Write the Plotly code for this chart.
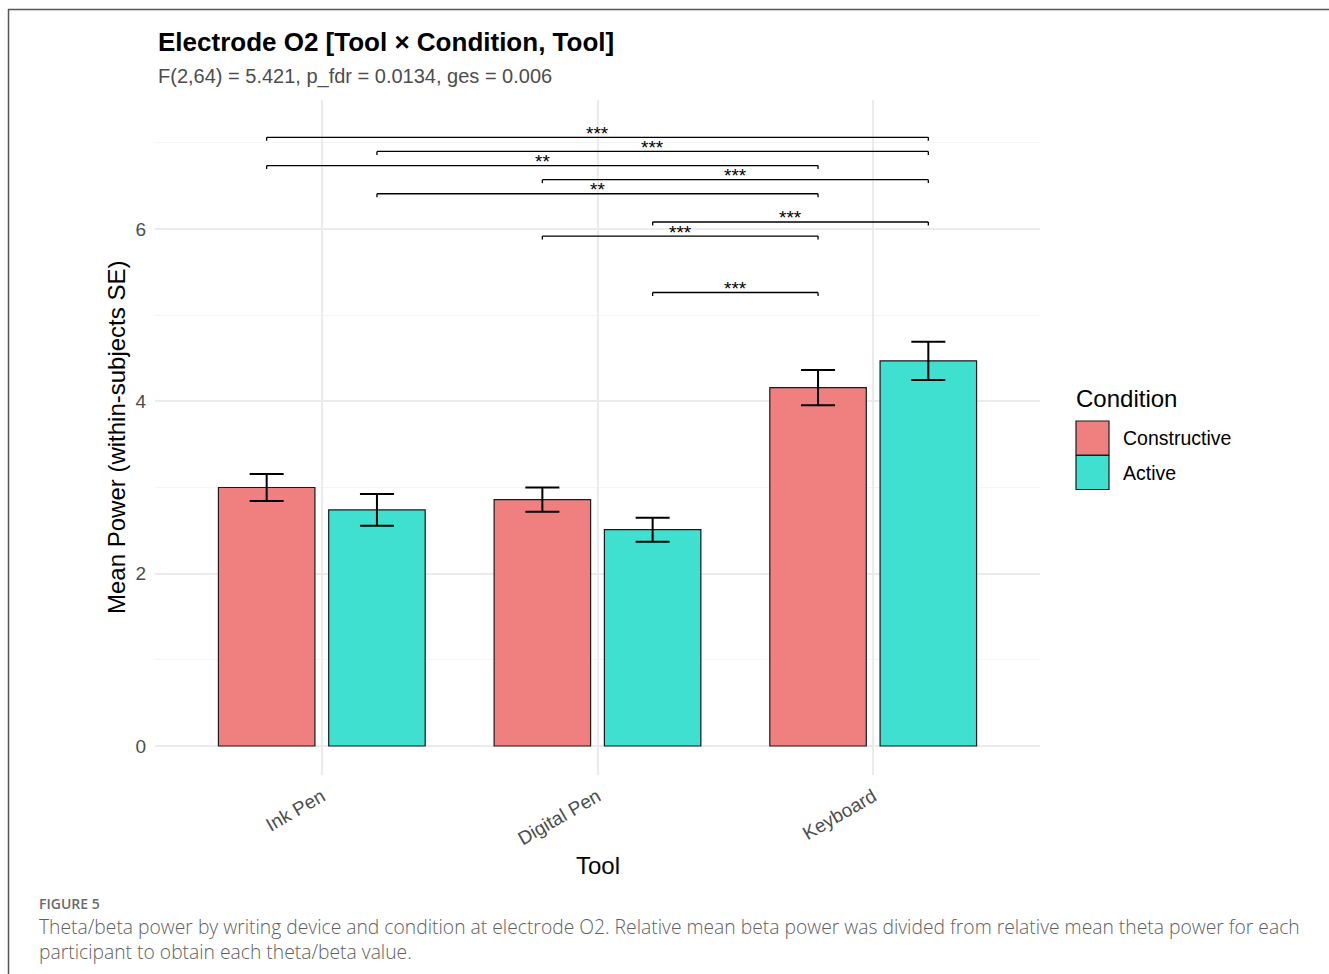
import plotly.graph_objects as go

# ---- data -------------------------------------------------------------
tools = ["Ink Pen", "Digital Pen", "Keyboard"]
conditions = ["Constructive", "Active"]
mean_constructive = [3.00, 2.86, 4.16]
mean_active = [2.74, 2.51, 4.47]
se_constructive = [0.157, 0.141, 0.205]
se_active = [0.185, 0.140, 0.222]
colors = {"Constructive": "#F08080", "Active": "#40E0D0"}

# pairwise comparisons: (tool_a, cond_a, tool_b, cond_b, stacking level, label)
comparisons = [
    ("Digital Pen", "Active", "Keyboard", "Constructive", 0, "***"),
    ("Digital Pen", "Constructive", "Keyboard", "Constructive", 4, "***"),
    ("Digital Pen", "Active", "Keyboard", "Active", 5, "***"),
    ("Ink Pen", "Active", "Keyboard", "Constructive", 7, "**"),
    ("Digital Pen", "Constructive", "Keyboard", "Active", 8, "***"),
    ("Ink Pen", "Constructive", "Keyboard", "Constructive", 9, "**"),
    ("Ink Pen", "Active", "Keyboard", "Active", 10, "***"),
    ("Ink Pen", "Constructive", "Keyboard", "Active", 11, "***"),
]
bracket_base = 5.263
bracket_step = 0.1637

title = "Electrode O2 [Tool × Condition, Tool]"
subtitle = "F(2,64) = 5.421, p_fdr = 0.0134, ges = 0.006"
caption_head = "FIGURE 5"
caption_lines = [
    "Theta/beta power by writing device and condition at electrode O2. Relative mean beta power was divided from relative mean theta power for each",
    "participant to obtain each theta/beta value.",
]

# ---- layout geometry ----------------------------------------------------
W, H = 1329, 974
PX0, PX1, PY0, PY1 = 155, 1040, 100, 775   # panel box in pixels
DODGE = 0.2


def px(x):
    return x / W


def py(y):
    return 1 - y / H


FONT = "Liberation Sans, Arial, sans-serif"

fig = go.Figure()
for cond, means, ses in [("Constructive", mean_constructive, se_constructive),
                         ("Active", mean_active, se_active)]:
    fig.add_trace(go.Bar(
        name=cond, x=tools, y=means,
        marker=dict(color=colors[cond], line=dict(color="#1a1a1a", width=1.2)),
        error_y=dict(type="data", array=ses, visible=True,
                     color="black", thickness=2, width=17),
        showlegend=False,
    ))

# significance brackets
shapes = []
annotations = []
tip = 0.04
cond_off = {"Constructive": -DODGE, "Active": DODGE}
for ta, ca, tb, cb, level, lab in comparisons:
    xa = tools.index(ta) + cond_off[ca]
    xb = tools.index(tb) + cond_off[cb]
    yb = bracket_base + bracket_step * level
    line = dict(color="black", width=1.3)
    shapes.append(dict(type="line", xref="x", yref="y", x0=xa, x1=xb, y0=yb, y1=yb, line=line))
    shapes.append(dict(type="line", xref="x", yref="y", x0=xa, x1=xa, y0=yb - tip, y1=yb, line=line))
    shapes.append(dict(type="line", xref="x", yref="y", x0=xb, x1=xb, y0=yb - tip, y1=yb, line=line))
    annotations.append(dict(xref="x", yref="y", x=(xa + xb) / 2, y=yb, text=lab,
                            showarrow=False, yanchor="middle", yshift=4,
                            font=dict(family=FONT, size=19, color="black")))

# outer frame
frame = dict(color="#555555", width=1.5)
shapes.append(dict(type="line", xref="paper", yref="paper",
                   x0=px(8), x1=1, y0=py(9.5), y1=py(9.5), line=frame))
shapes.append(dict(type="line", xref="paper", yref="paper",
                   x0=px(8.5), x1=px(8.5), y0=py(9), y1=0, line=frame))

# legend drawn as keys + labels
annotations.append(dict(xref="paper", yref="paper", x=px(1074), y=py(398), text="Condition",
                        showarrow=False, xanchor="left", yanchor="middle",
                        font=dict(family=FONT, size=24, color="black")))
for i, cond in enumerate(conditions):
    top = 421 + i * 34.5
    shapes.append(dict(type="rect", xref="paper", yref="paper",
                       x0=px(1076), x1=px(1109), y0=py(top + 34), y1=py(top),
                       fillcolor=colors[cond], line=dict(color="#1a1a1a", width=1.2)))
    annotations.append(dict(xref="paper", yref="paper", x=px(1121), y=py(top + 17), text=cond,
                            showarrow=False, xanchor="left", yanchor="middle",
                            font=dict(family=FONT, size=19.5, color="black")))

# titles
annotations.append(dict(xref="paper", yref="paper", x=px(156), y=py(42), text="<b>" + title + "</b>",
                        showarrow=False, xanchor="left", yanchor="middle",
                        font=dict(family=FONT, size=26, color="black")))
annotations.append(dict(xref="paper", yref="paper", x=px(156), y=py(76), text=subtitle,
                        showarrow=False, xanchor="left", yanchor="middle",
                        font=dict(family=FONT, size=20, color="#4d4d4d")))
annotations.append(dict(xref="paper", yref="paper", x=px(116), y=py(438),
                        text="Mean Power (within-subjects SE)", textangle=-90,
                        showarrow=False, xanchor="center", yanchor="middle",
                        font=dict(family=FONT, size=24, color="black")))
annotations.append(dict(xref="paper", yref="paper", x=px(598), y=py(865), text="Tool",
                        showarrow=False, xanchor="center", yanchor="middle",
                        font=dict(family=FONT, size=24, color="black")))

# caption
CAP_FONT = "Open Sans, Lato, sans-serif"
annotations.append(dict(xref="paper", yref="paper", x=px(37), y=py(903), text=caption_head,
                        showarrow=False, xanchor="left", yanchor="middle",
                        font=dict(family=CAP_FONT, size=14, color="#6b6b6b", weight=600)))
annotations.append(dict(xref="paper", yref="paper", x=px(37), y=py(939), text="<br>".join(caption_lines),
                        showarrow=False, xanchor="left", yanchor="middle", align="left",
                        font=dict(family=CAP_FONT, size=19.3, color="#5f5f5f", weight=300)))

scale = (746 - 229) / 6.0
y_lo = -(PY1 - 746) / scale
y_hi = (746 - PY0) / scale
x_pad = (322 - PX0) / 276.0

fig.update_layout(
    width=W, height=H,
    margin=dict(l=0, r=0, t=0, b=0),
    paper_bgcolor="white", plot_bgcolor="white",
    barmode="group", bargap=0.2, bargroupgap=0.125,
    shapes=shapes, annotations=annotations,
    font=dict(family=FONT),
    xaxis=dict(domain=[px(PX0), px(PX1)], range=[-x_pad, len(tools) - 1 + x_pad],
               type="category", showgrid=True, gridcolor="#EBEBEB", gridwidth=1.5,
               zeroline=False, showline=False, ticks="", tickangle=-30, ticklabelstandoff=6,
               tickfont=dict(family=FONT, size=19, color="#4d4d4d"), automargin=False),
    yaxis=dict(domain=[py(PY1), py(PY0)], range=[y_lo, y_hi],
               tickvals=[0, 2, 4, 6], showgrid=True, gridcolor="#EBEBEB", gridwidth=1.5,
               minor=dict(tickvals=[1, 3, 5, 7], showgrid=True, gridcolor="#F4F4F4", gridwidth=1),
               zeroline=False, showline=False, ticks="", ticklabelstandoff=8,
               tickfont=dict(family=FONT, size=19, color="#4d4d4d"), automargin=False),
)

fig.write_html("out.html")
